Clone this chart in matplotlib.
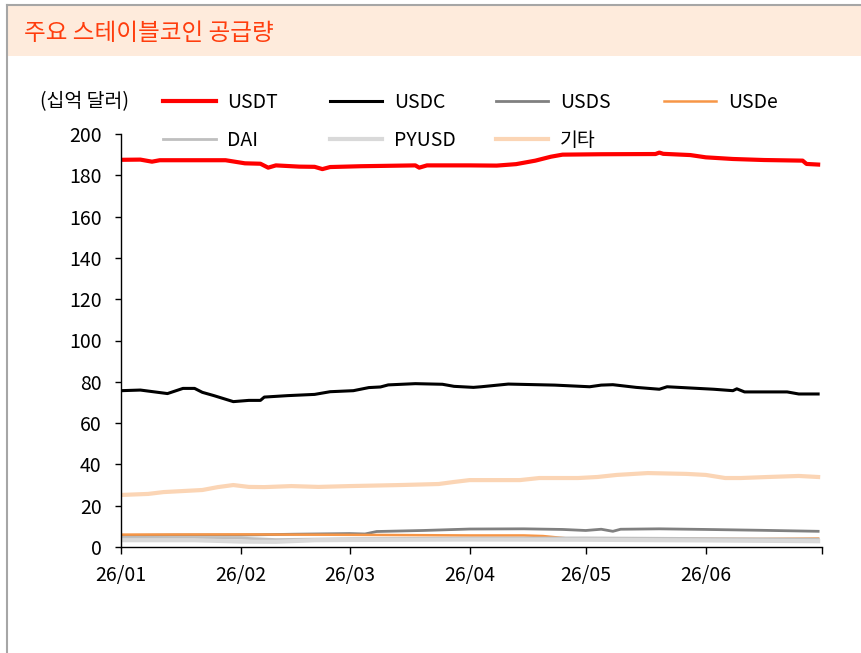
import matplotlib
matplotlib.use('Agg')
import matplotlib.pyplot as plt
from matplotlib.patches import Rectangle
from matplotlib.lines import Line2D
import pandas as pd

plt.rcParams['font.family'] = ['Noto Sans CJK KR', 'DejaVu Sans']

# Data (십억 달러)
usdt_dates = ['2026-01-01', '2026-01-06', '2026-01-09', '2026-01-11', '2026-01-28', '2026-02-02',
              '2026-02-06', '2026-02-08', '2026-02-10', '2026-02-16', '2026-02-20', '2026-02-22',
              '2026-02-24', '2026-03-04', '2026-03-18', '2026-03-19', '2026-03-21', '2026-04-01',
              '2026-04-08', '2026-04-13', '2026-04-18', '2026-04-22', '2026-04-25', '2026-05-05',
              '2026-05-19', '2026-05-20', '2026-05-21', '2026-05-28', '2026-06-01', '2026-06-08',
              '2026-06-16', '2026-06-26', '2026-06-27', '2026-06-30']
usdt = [187.5, 187.6, 186.6, 187.3, 187.3, 185.8, 185.6, 183.7, 184.8, 184.2, 184.1, 183.0,
        184.0, 184.4, 184.8, 183.7, 184.8, 184.8, 184.7, 185.4, 187.1, 189.0, 190.0, 190.2,
        190.3, 191.0, 190.4, 189.8, 188.7, 187.9, 187.4, 187.1, 185.5, 185.2]

usdc_dates = ['2026-01-01', '2026-01-06', '2026-01-13', '2026-01-17', '2026-01-20', '2026-01-22',
              '2026-01-25', '2026-01-30', '2026-02-03', '2026-02-06', '2026-02-07', '2026-02-13',
              '2026-02-20', '2026-02-24', '2026-03-02', '2026-03-06', '2026-03-09', '2026-03-11',
              '2026-03-18', '2026-03-25', '2026-03-28', '2026-04-02', '2026-04-04', '2026-04-11',
              '2026-04-23', '2026-05-02', '2026-05-05', '2026-05-08', '2026-05-14', '2026-05-20',
              '2026-05-22', '2026-06-03', '2026-06-08', '2026-06-09', '2026-06-11', '2026-06-22',
              '2026-06-25', '2026-06-30']
usdc = [75.7, 76.0, 74.3, 76.8, 76.8, 74.9, 73.3, 70.4, 71.0, 71.0, 72.6, 73.3,
        73.9, 75.2, 75.7, 77.2, 77.5, 78.5, 79.1, 78.8, 77.8, 77.3, 77.6, 78.9,
        78.4, 77.6, 78.4, 78.6, 77.3, 76.4, 77.6, 76.4, 75.7, 76.6, 75.1, 75.1,
        74.1, 74.1]

usds_dates = ['2026-01-01', '2026-01-15', '2026-02-01', '2026-02-15', '2026-03-01', '2026-03-05',
              '2026-03-08', '2026-03-20', '2026-04-01', '2026-04-15', '2026-04-25', '2026-05-01',
              '2026-05-05', '2026-05-08', '2026-05-10', '2026-05-20', '2026-06-01', '2026-06-15',
              '2026-06-30']
usds = [5.6, 5.8, 5.8, 6.2, 6.5, 6.3, 7.5, 8.0, 8.7, 8.8, 8.5, 8.0,
        8.6, 7.6, 8.6, 8.8, 8.5, 8.1, 7.6]

usde_dates = ['2026-01-01', '2026-02-01', '2026-03-01', '2026-04-01', '2026-04-15', '2026-04-20',
              '2026-04-26', '2026-05-15', '2026-06-15', '2026-06-30']
usde = [6.0, 6.1, 5.9, 5.6, 5.6, 5.3, 4.2, 4.0, 3.9, 4.1]

dai_dates = ['2026-01-01', '2026-01-20', '2026-02-01', '2026-02-10', '2026-03-01', '2026-04-01',
             '2026-05-01', '2026-06-01', '2026-06-30']
dai = [4.6, 4.5, 4.3, 3.6, 4.0, 4.3, 4.4, 4.1, 3.8]

pyusd_dates = ['2026-01-01', '2026-01-20', '2026-02-01', '2026-02-10', '2026-02-20', '2026-03-01',
               '2026-04-01', '2026-05-01', '2026-06-01', '2026-06-30']
pyusd = [3.3, 3.3, 2.6, 2.5, 3.3, 3.4, 3.6, 3.5, 3.2, 2.8]

etc_dates = ['2026-01-01', '2026-01-08', '2026-01-12', '2026-01-17', '2026-01-22', '2026-01-26',
             '2026-01-30', '2026-02-03', '2026-02-07', '2026-02-14', '2026-02-21', '2026-03-01',
             '2026-03-14', '2026-03-24', '2026-03-28', '2026-04-01', '2026-04-14', '2026-04-19',
             '2026-04-29', '2026-05-04', '2026-05-09', '2026-05-17', '2026-05-27', '2026-06-01',
             '2026-06-06', '2026-06-10', '2026-06-17', '2026-06-25', '2026-06-30']
etc = [25.2, 25.7, 26.6, 27.1, 27.6, 29.0, 30.0, 29.1, 29.0, 29.5, 29.1, 29.5,
       30.0, 30.5, 31.5, 32.4, 32.4, 33.4, 33.4, 33.9, 34.9, 35.8, 35.4, 34.9,
       33.4, 33.4, 33.9, 34.4, 33.9]

names = ['USDT', 'USDC', 'USDS', 'USDe', 'DAI', 'PYUSD', '기타']
all_dates = [usdt_dates, usdc_dates, usds_dates, usde_dates, dai_dates, pyusd_dates, etc_dates]
all_values = [usdt, usdc, usds, usde, dai, pyusd, etc]
colors = ['#FF0000', '#000000', '#808080', '#F79646', '#BFBFBF', '#D9D9D9', '#FBD5B5']
widths = [3.0, 2.2, 2.0, 1.8, 2.0, 3.0, 3.0]

tick_labels = ['26/01', '26/02', '26/03', '26/04', '26/05', '26/06']

W, H = 862, 653
fig = plt.figure(figsize=(W / 100, H / 100), dpi=100)

# frame and title band
fig.patches.append(Rectangle((8 / W, 1 - 56 / H), 1, 50 / H, transform=fig.transFigure,
                             facecolor='#FEEBDC', edgecolor='none', zorder=0))
fig.add_artist(Line2D([7 / W, 1], [1 - 5 / H, 1 - 5 / H], color='#A6A6A6', lw=1.5))
fig.add_artist(Line2D([7 / W, 7 / W], [0, 1 - 5 / H], color='#A6A6A6', lw=1.5))
fig.text(24 / W, 1 - 34 / H, '주요 스테이블코인 공급량', color='#FF3D0D', fontsize=17,
         va='center', ha='left')

ax = fig.add_axes([121 / W, 1 - 547 / H, (822 - 121) / W, (547 - 134) / H])

lines = []
for d, v, c, lw, n in zip(all_dates, all_values, colors, widths, names):
    ln, = ax.plot(pd.to_datetime(d), v, color=c, lw=lw, label=n, solid_joinstyle='round')
    lines.append(ln)

ax.set_ylim(0, 200)
ax.set_yticks(range(0, 201, 20))
ax.set_xlim(pd.Timestamp('2026-01-01'), pd.Timestamp('2026-07-01'))
month_ticks = pd.date_range('2026-01-01', '2026-07-01', freq='MS')
ax.set_xticks(month_ticks)
ax.set_xticklabels(tick_labels + [''])

for s in ['top', 'right']:
    ax.spines[s].set_visible(False)
for s in ['left', 'bottom']:
    ax.spines[s].set_linewidth(1.0)
ax.tick_params(axis='y', length=4, width=1, pad=10, labelsize=14)
ax.tick_params(axis='x', length=5, width=1, pad=8, labelsize=14)

# legend: one entry per slot
slots = [(163, 102), (330, 102), (496, 102), (664, 102), (163, 140), (330, 140), (496, 140)]
for ln, (x, y) in zip(lines, slots):
    fig.legend([ln], [ln.get_label()], loc='center left', bbox_to_anchor=(x / W, 1 - y / H),
               frameon=False, fontsize=14, handlelength=2.7, handletextpad=0.6,
               borderpad=0, borderaxespad=0)
fig.text(40 / W, 1 - 102 / H, '(십억 달러)', fontsize=14, va='center', ha='left')

fig.savefig('out.png', dpi=100)
